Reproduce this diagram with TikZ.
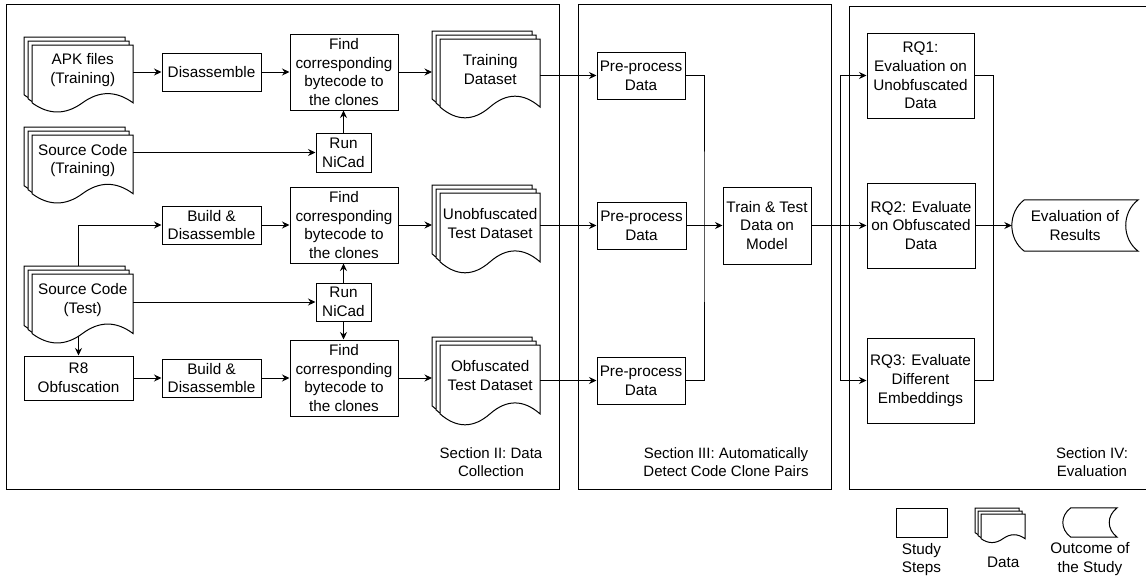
\documentclass[tikz,border=0pt]{standalone}
\usepackage{fontspec}
\setmainfont{Liberation Sans}
\usetikzlibrary{positioning,calc,arrows.meta}

\newcommand{\boxfont}{\fontsize{15.3}{18.7}\selectfont}
\newcommand{\secfont}{\fontsize{15}{18}\selectfont}

% one sheet of a document shape (left, top, width, height)
\newcommand{\docpath}[4]{%
  \pgfmathsetmacro{\dd}{0.3*#4}%
  \draw[docline] (#1,#2) -- (#1+#3,#2) -- (#1+#3,#2+#4-\dd/2)
    .. controls (#1+#3*5/6,#2+#4-1.1*\dd) and (#1+#3*2/3,#2+#4-1.1*\dd) .. (#1+#3/2,#2+#4-\dd/2)
    .. controls (#1+#3/3,#2+#4+0.1*\dd) and (#1+#3/6,#2+#4+0.1*\dd) .. (#1,#2+#4-\dd/2) -- cycle;
}
% stack of three sheets, named node on the front sheet
\newcommand{\docstack}[7]{%
  \foreach \lay in {2,1,0}{%
    \pgfmathsetmacro{\xl}{#2-\lay*#6}%
    \pgfmathsetmacro{\yt}{#3-\lay*#6}%
    \docpath{\xl}{\yt}{#4}{#5}%
  }%
  \pgfmathsetmacro{\dd}{0.3*#5}%
  \pgfmathsetmacro{\nh}{#5-\dd/2+2*#6}%
  \node[docnode, minimum width=#4, minimum height=\nh, anchor=north west] (#1) at (#2,#3-2*#6) {#7};
  \coordinate (#1-w) at ($(#1.west)-(2*#6,0)$);
}
% outline of an outcome node (node name, curve depth)
\newcommand{\outcpath}[2]{%
  \draw[outl] ($(#1.north west)+(#2,0)$) -- (#1.north east)
    .. controls +({-1.33*#2},#2) and +({-1.33*#2},-#2) .. (#1.south east)
    -- ($(#1.south west)+(#2,0)$)
    .. controls +({-1.33*#2},-#2) and +({-1.33*#2},#2) .. ($(#1.north west)+(#2,0)$) -- cycle;
}

\begin{document}
\begin{tikzpicture}[x=1pt, y=-1pt,
  stp/.style={draw, line width=1pt, fill=white, inner sep=0pt, align=center, font=\boxfont},
  docnode/.style={inner sep=0pt, align=center, font=\boxfont},
  docline/.style={draw, line width=1pt, fill=white},
  outl/.style={draw, line width=1pt},
  secbox/.style={draw, line width=1pt, inner sep=0pt, anchor=north west},
  seclbl/.style={align=center, font=\secfont},
  lbl/.style={align=center, font=\boxfont, inner sep=0pt},
  arr/.style={-{Stealth[length=7.5pt, width=7pt, inset=2.5pt]}, line width=1pt},
  ln/.style={line width=1pt},
]
  \useasboundingbox (0,0) rectangle (1146,579);
  \clip (0,0) rectangle (1146,579);

  % sections
  \node[secbox, minimum width=553, minimum height=485] (sec2) at (6,4) {};
  \node[secbox, minimum width=253, minimum height=485] (sec3) at (578,4) {};
  \node[secbox, minimum width=310, minimum height=483] (sec4) at (849,6) {};
  \node[seclbl] (sec2lbl) at (491,462) {Section II: Data\\Collection};
  \node[seclbl] (sec3lbl) at (726,462) {Section III: Automatically\\Detect Code Clone Pairs};
  \node[seclbl] (sec4lbl) at (1092,462) {Section IV:\\Evaluation};

  % data collection
  \docstack{apk}{32}{45}{101}{68}{4}{APK files\\(Training)}
  \node[stp, minimum width=99, minimum height=38] (dis) at (211.5,72) {Disassemble};
  \node[stp, minimum width=108, minimum height=76] (find1) at (344,72)
    {Find\\corresponding\\bytecode to\\the clones};
  \docstack{tds}{440}{39}{100}{80}{4}{Training\\Dataset}
  \node[stp, minimum width=55, minimum height=39] (nicad1) at (343.5,152.5) {Run\\NiCad};
  \docstack{srctr}{32}{135}{101}{69}{4}{Source Code\\(Training)}

  \node[stp, minimum width=99, minimum height=38] (bd1) at (211.5,225) {Build \&\\Disassemble};
  \node[stp, minimum width=108, minimum height=76] (find2) at (344,225)
    {Find\\corresponding\\bytecode to\\the clones};
  \docstack{uds}{440}{193}{100}{81}{4}{Unobfuscated\\Test Dataset}
  \docstack{srcte}{32}{274}{101}{70}{4}{Source Code\\(Test)}
  \node[stp, minimum width=55, minimum height=38] (nicad2) at (343.5,302) {Run\\NiCad};

  \node[stp, minimum width=109, minimum height=44] (r8) at (78.5,378) {R8\\Obfuscation};
  \node[stp, minimum width=99, minimum height=38] (bd2) at (211.5,378) {Build \&\\Disassemble};
  \node[stp, minimum width=108, minimum height=76] (find3) at (344,378)
    {Find\\corresponding\\bytecode to\\the clones};
  \docstack{ods}{440}{345}{100}{81}{4}{Obfuscated\\Test Dataset}

  % clone pair detection
  \node[stp, minimum width=88, minimum height=47] (pre1) at (641,75.5) {Pre-process\\Data};
  \node[stp, minimum width=89, minimum height=47] (pre2) at (641.5,225.5) {Pre-process\\Data};
  \node[stp, minimum width=88, minimum height=47] (pre3) at (641,380.5) {Pre-process\\Data};
  \node[stp, minimum width=88, minimum height=77] (train) at (767,225.5) {Train \& Test\\Data on\\Model};
  \coordinate (bus1) at (704,225.5);

  % evaluation
  \node[stp, minimum width=107, minimum height=85] (rq1) at (920.5,75.5)
    {RQ1:\\Evaluation on\\Unobfuscated\\Data};
  \node[stp, minimum width=108, minimum height=85] (rq2) at (921,225.5)
    {RQ2: Evaluate\\on Obfuscated\\Data};
  \node[stp, minimum width=107, minimum height=85] (rq3) at (920.5,380.5)
    {RQ3: Evaluate\\Different\\Embeddings};
  \node[lbl, minimum width=126, minimum height=51] (eval) at (1075,225.5) {Evaluation of\\Results};
  \outcpath{eval}{12.5}
  \coordinate (bus2) at (840,225.5);
  \coordinate (bus3) at (993,225.5);

  % connectors
  \draw[arr] (apk.east |- dis.west) -- (dis.west);
  \draw[arr] (dis) -- (find1);
  \draw[arr] (find1.east) -- (find1.east -| tds-w);
  \draw[arr] (nicad1.north) -- (nicad1.north |- find1.south);
  \draw[arr] (srctr.east |- nicad1.west) -- (nicad1.west);
  \draw[arr] (r8.north |- srcte.north) |- (bd1.west);
  \draw[arr] (bd1) -- (find2);
  \draw[arr] (find2.east) -- (find2.east -| uds-w);
  \draw[arr] (srcte.east |- nicad2.west) -- (nicad2.west);
  \draw[arr] (nicad2.north) -- (nicad2.north |- find2.south);
  \draw[arr] (nicad2.south) -- (nicad2.south |- find3.north);
  \draw[arr, shorten <=2pt] (r8.north |- srcte.south) -- (r8.north);
  \draw[arr] (r8) -- (bd2);
  \draw[arr] (bd2) -- (find3);
  \draw[arr] (find3.east) -- (find3.east -| ods-w);

  \draw[arr] (tds.east |- pre1.west) -- (pre1.west);
  \draw[arr] (uds.east |- pre2.west) -- (pre2.west);
  \draw[arr] (ods.east |- pre3.west) -- (pre3.west);
  \draw[ln] (pre1.east) -| (bus1) |- (pre3.east);
  \draw[arr] (pre2.east) -- (train.west);

  \draw[ln] (train.east) -- (bus2);
  \draw[arr] (bus2) |- (rq1.west);
  \draw[arr] (bus2) -- (rq2.west);
  \draw[arr] (bus2) |- (rq3.west);
  \draw[ln] (rq1.east) -| (bus3) |- (rq3.east);
  \draw[arr] (rq2.east) -- (eval.west);

  % legend
  \node[stp, minimum width=51, minimum height=29] (legstep) at (921.5,522.5) {};
  \node[lbl, below=5.5pt of legstep] (legsteplbl) {Study\\Steps};
  \docstack{legdata}{981}{514}{44}{29}{3}{}
  \node[lbl, below=18pt of legdata] (legdatalbl) {Data};
  \node[inner sep=0pt, minimum width=54, minimum height=29] (legout) at (1090,522.5) {};
  \outcpath{legout}{8}
  \node[lbl, below=5pt of legout] (legoutlbl) {Outcome of\\the Study};
\end{tikzpicture}
\end{document}
